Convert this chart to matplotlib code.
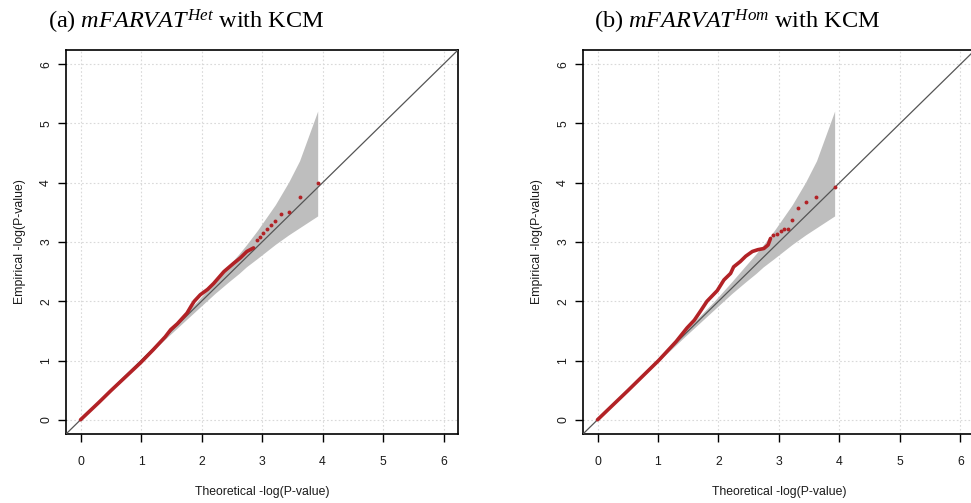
import matplotlib
matplotlib.use("Agg")
import matplotlib.pyplot as plt

plt.rcParams["mathtext.fontset"] = "custom"
plt.rcParams["mathtext.rm"] = "Liberation Serif"
plt.rcParams["mathtext.it"] = "Liberation Serif:italic"
plt.rcParams["font.family"] = ["Liberation Sans", "DejaVu Sans"]

# 90% band for the expected -log10 p-values (shared by both panels)
band_x = [0.0, 0.92, 1.44, 1.92, 2.22, 2.44, 2.62, 2.74, 2.92, 3.22, 3.44, 3.62, 3.92]
band_hi = [0.0, 0.94, 1.49, 1.99, 2.33, 2.59, 2.80, 2.95, 3.19, 3.63, 4.01, 4.37, 5.21]
band_lo = [0.0, 0.90, 1.40, 1.85, 2.13, 2.32, 2.47, 2.58, 2.72, 2.96, 3.12, 3.24, 3.44]

# (a) heterozygous model: bulk of the tests, then the ten smallest p-values
het_x = [0.0, 0.3, 0.5, 0.99, 1.2, 1.4, 1.49, 1.6, 1.76, 1.83, 1.88, 1.98, 2.1,
         2.2, 2.37, 2.53, 2.64, 2.75, 2.86]
het_y = [0.0, 0.29, 0.49, 0.96, 1.18, 1.40, 1.52, 1.62, 1.80, 1.92, 2.0, 2.11, 2.2,
         2.30, 2.50, 2.64, 2.73, 2.84, 2.90]
het_top_x = [3.92, 3.62, 3.45, 3.32, 3.22, 3.15, 3.09, 3.02, 2.96, 2.92]
het_top_y = [4.00, 3.76, 3.50, 3.47, 3.36, 3.29, 3.22, 3.16, 3.09, 3.04]

# (b) homozygous model
hom_x = [0.0, 0.5, 1.01, 1.3, 1.48, 1.6, 1.70, 1.81, 1.98, 2.09, 2.2, 2.25, 2.36,
         2.45, 2.56, 2.65, 2.75, 2.82, 2.86]
hom_y = [0.0, 0.49, 1.0, 1.32, 1.55, 1.68, 1.83, 2.0, 2.18, 2.36, 2.47, 2.58, 2.67,
         2.76, 2.84, 2.87, 2.89, 2.95, 3.06]
hom_top_x = [3.92, 3.61, 3.44, 3.32, 3.22, 3.15, 3.09, 3.04, 2.97, 2.90]
hom_top_y = [3.92, 3.76, 3.68, 3.58, 3.37, 3.22, 3.22, 3.19, 3.14, 3.12]

ticks = [0, 1, 2, 3, 4, 5, 6]
red = "#B22226"
ink = "#1a1a1a"

fig = plt.figure(figsize=(9.71, 5.03), dpi=100)


def qq_panel(left, xs, ys, top_x, top_y):
    ax = fig.add_axes([left, 0.1372, 0.4037, 0.7634])
    ax.set_xlim(-0.24, 6.24)
    ax.set_ylim(-0.24, 6.24)
    ax.set_xticks(ticks)
    ax.set_yticks(ticks)
    ax.grid(True, color="#d9d9d9", linestyle=(0, (1.5, 2)), linewidth=0.8)
    ax.set_axisbelow(True)
    ax.fill_between(band_x, band_lo, band_hi, color="#bebebe", linewidth=0, zorder=2)
    ax.plot([-1, 7], [-1, 7], color="#555555", linewidth=0.9, zorder=3)
    ax.plot(xs, ys, color=red, linewidth=2.6, solid_capstyle="round",
            solid_joinstyle="round", zorder=4)
    ax.plot(top_x, top_y, "o", color=red, markersize=2.8, markeredgewidth=0, zorder=4)
    for s in ax.spines.values():
        s.set_linewidth(1.2)
    ax.tick_params(axis="both", direction="out", length=6, width=1.0,
                   labelsize=8.8, labelcolor=ink)
    ax.tick_params(axis="x", pad=10)
    ax.tick_params(axis="y", pad=4)
    for lab in ax.get_yticklabels():
        lab.set_rotation(90)
        lab.set_va("center")
    ax.set_xlabel("Theoretical -log(P-value)", fontsize=8.8, color=ink, labelpad=13)
    ax.set_ylabel("Empirical -log(P-value)", fontsize=8.8, color=ink, labelpad=10)
    return ax


qq_panel(0.0680, het_x, het_y, het_top_x, het_top_y)
qq_panel(0.6004, hom_x, hom_y, hom_top_x, hom_top_y)

fig.text(48 / 971, 1 - 29 / 503, r"(a) $\mathit{mFARVAT}^{Het}$ with KCM",
         family="Liberation Serif", fontsize=17.5, va="baseline", ha="left")
fig.text(594 / 971, 1 - 29 / 503, r"(b) $\mathit{mFARVAT}^{Hom}$ with KCM",
         family="Liberation Serif", fontsize=17.5, va="baseline", ha="left")

fig.savefig("out.png", dpi=100)
